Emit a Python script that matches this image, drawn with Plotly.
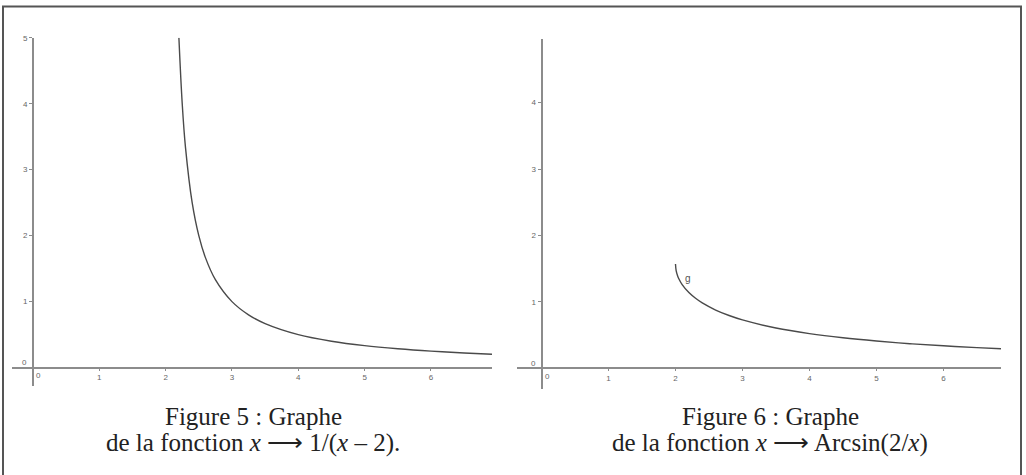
import plotly.graph_objects as go

# ---- data ----
f_x = [2.2, 2.25, 2.3, 2.4, 2.5, 2.6, 2.75, 3.0, 3.25, 3.5, 4.0, 4.5, 5.0, 5.5, 6.0, 6.5, 6.92]
f_y = [5.0, 4.0, 3.33, 2.5, 2.0, 1.667, 1.333, 1.0, 0.8, 0.667, 0.5, 0.4, 0.333, 0.286, 0.25, 0.222, 0.203]

g_x = [2.0, 2.01, 2.03, 2.05, 2.1, 2.2, 2.3, 2.4, 2.6, 2.8, 3.0, 3.5, 4.0, 4.5, 5.0, 5.5, 6.0, 6.5, 6.86]
g_y = [1.571, 1.471, 1.399, 1.349, 1.261, 1.141, 1.055, 0.985, 0.878, 0.796, 0.730, 0.608, 0.524, 0.461, 0.412, 0.372, 0.340, 0.313, 0.296]

x_ticks = [1, 2, 3, 4, 5, 6]
y_ticks_left = [1, 2, 3, 4, 5]
y_ticks_right = [1, 2, 3, 4]

caption_left = ["Figure 5 : Graphe", "de la fonction <i>x</i> ⟶ 1/(<i>x</i> – 2)."]
caption_right = ["Figure 6 : Graphe", "de la fonction <i>x</i> ⟶ Arcsin(2/<i>x</i>)"]
curve_label = "g"

W, H = 1026, 475
AX = "#8c8c8c"
CURVE = "#4a4a4a"
TICKFONT = dict(family="Liberation Sans, Arial, sans-serif", size=8, color="#666666")

fig = go.Figure()
fig.add_trace(go.Scatter(x=f_x, y=f_y, mode="lines", line=dict(color=CURVE, width=1.4, shape="spline"),
                         xaxis="x", yaxis="y", showlegend=False, hoverinfo="skip"))
fig.add_trace(go.Scatter(x=g_x, y=g_y, mode="lines", line=dict(color=CURVE, width=1.4, shape="spline"),
                         xaxis="x2", yaxis="y2", showlegend=False, hoverinfo="skip"))


def xa(dom, rng, pos):
    return dict(domain=dom, range=rng, anchor="free", position=pos, showline=True, linecolor=AX,
                linewidth=2, ticks="outside", ticklen=2, tickwidth=1, tickcolor=AX,
                tickvals=x_ticks, tickfont=TICKFONT, showgrid=False, zeroline=False, fixedrange=True)


def ya(dom, rng, pos, tv):
    return dict(domain=dom, range=rng, anchor="free", position=pos, showline=True, linecolor=AX,
                linewidth=2, ticks="outside", ticklen=3, tickwidth=1, tickcolor=AX,
                tickvals=tv, tickfont=TICKFONT, showgrid=False, zeroline=False, fixedrange=True)


# left panel: origin at (33, 366.7) px, ~66.4 px/unit
fig.update_layout(
    xaxis=xa([12 / W, 492 / W], [-0.316, 6.92], 1 - 366.7 / H),
    yaxis=ya([1 - 385 / H, 1 - 34 / H], [-0.275, 5.0], 33 / W, y_ticks_left),
    # right panel: origin at (541.5, 367.5) px, ~67 px/unit
    xaxis2=xa([517 / W, 1001 / W], [-0.366, 6.86], 1 - 367.5 / H),
    yaxis2=ya([1 - 388 / H, 1 - 35 / H], [-0.306, 4.963], 541.5 / W, y_ticks_right),
)

ann = []
for xr, yr in (("x", "y"), ("x2", "y2")):
    ann.append(dict(x=0, y=0, xref=xr, yref=yr, text="0", showarrow=False, xshift=6, yshift=-8,
                    font=TICKFONT))
    ann.append(dict(x=0, y=0, xref=xr, yref=yr, text="0", showarrow=False, xshift=-8, yshift=5,
                    font=TICKFONT))
ann.append(dict(x=2.18, y=1.35, xref="x2", yref="y2", text=curve_label, showarrow=False,
                font=dict(family="Liberation Sans, Arial, sans-serif", size=10, color="#555555")))

CAP = dict(family="Liberation Serif, Times New Roman, serif", size=25, color="#222222")
for cx, lines in ((253 / W, caption_left), (770 / W, caption_right)):
    ann.append(dict(x=cx, y=1 - 416 / H, xref="paper", yref="paper", text=lines[0], showarrow=False,
                    xanchor="center", yanchor="middle", font=CAP))
    ann.append(dict(x=cx, y=1 - 443 / H, xref="paper", yref="paper", text=lines[1], showarrow=False,
                    xanchor="center", yanchor="middle", font=CAP))

BORDER = dict(color="#555555", width=2)
shapes = [
    dict(type="line", xref="paper", yref="paper", x0=3 / W, x1=3 / W, y0=0, y1=1 - 2.5 / H, line=BORDER),
    dict(type="line", xref="paper", yref="paper", x0=2 / W, x1=1022 / W, y0=1 - 2.5 / H, y1=1 - 2.5 / H, line=BORDER),
    dict(type="line", xref="paper", yref="paper", x0=1021 / W, x1=1021 / W, y0=0, y1=1 - 2.5 / H, line=BORDER),
]

fig.update_layout(width=W, height=H, margin=dict(l=0, r=0, t=0, b=0), paper_bgcolor="white",
                  plot_bgcolor="white", annotations=ann, shapes=shapes, showlegend=False)

fig.write_html("out.html", config={"displayModeBar": False})
